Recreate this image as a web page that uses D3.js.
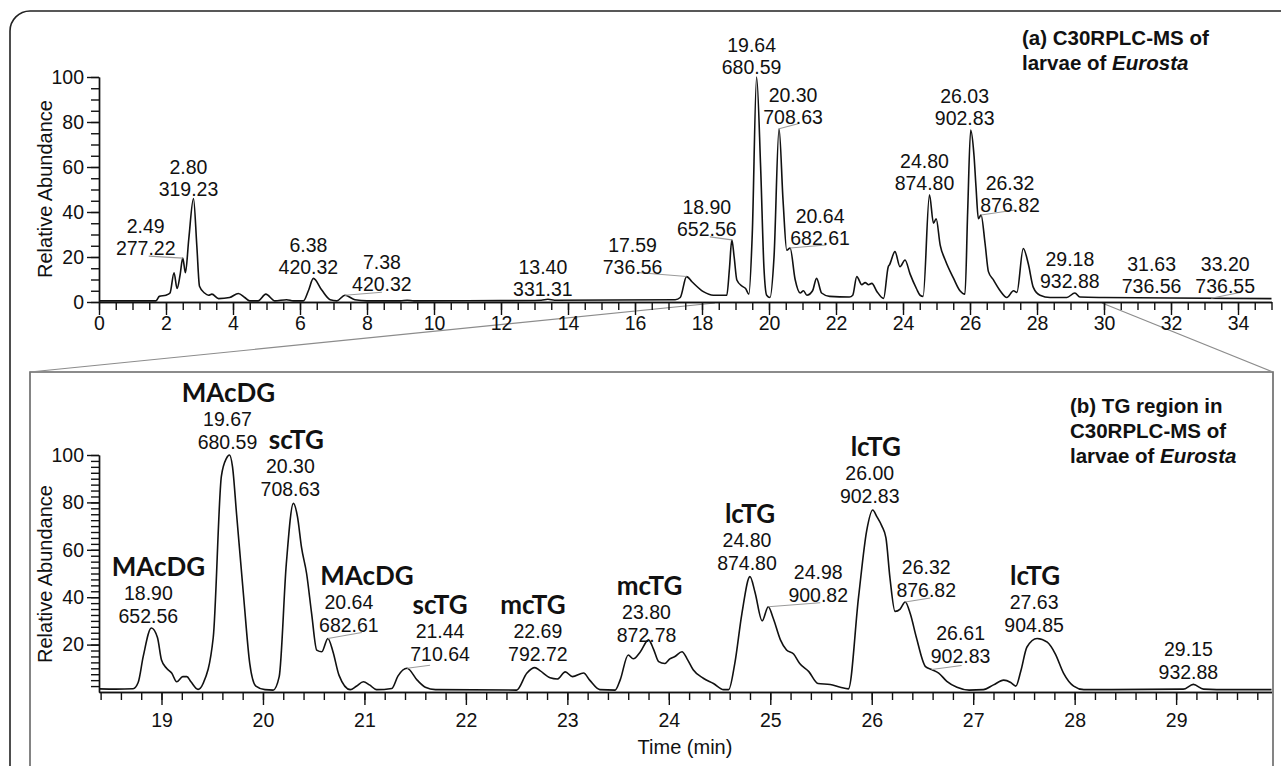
<!doctype html>
<meta charset="utf-8">
<title>C30RPLC-MS of larvae of Eurosta</title>
<script src="https://cdn.jsdelivr.net/npm/d3@7"></script>
<style>
  body { margin: 0; background: #fff; }
  svg { display: block; }
  .num { font-family: "Liberation Sans", Arial, sans-serif; font-size: 19.5px; fill: #111; }
  .cls { font-family: Lato, "Open Sans", sans-serif; font-weight: 700; font-size: 26px; fill: #111; }
  .ttl { font-family: "Liberation Sans", Arial, sans-serif; font-weight: 700; font-size: 20.5px; fill: #111; }
  .axis text { font-family: "Liberation Sans", Arial, sans-serif; font-size: 19.5px; fill: #111; }
  .axis path, .axis line { stroke: #111; stroke-width: 1.4px; }
</style>
<svg id="chart" width="1281" height="766"></svg>
<script>

// (data) top trace: full run, time (min) vs relative abundance
var topTrace = [
  [0, 0.5], [1.7, 0.5], [1.8, 2.5], [2.0, 3], [2.12, 4], [2.24, 13], [2.33, 6], [2.42, 12],
  [2.5, 19.5], [2.58, 13], [2.68, 28], [2.82, 46], [2.92, 25], [3.0, 7], [3.15, 4], [3.27, 3],
  [3.37, 3.5], [3.57, 1.5], [3.9, 2], [4.16, 3.8], [4.35, 2], [4.5, 0.5], [4.75, 0.5], [4.98, 3.5],
  [5.25, 0.5], [5.6, 1], [5.8, 0.5], [6.1, 0.5], [6.25, 5], [6.4, 10.5], [6.65, 5.3], [6.9, 1],
  [7.1, 0.5], [7.34, 3], [7.64, 1], [8.0, 0.5], [9.0, 0.5], [9.2, 0.8], [9.4, 0.5], [12.0, 0.6],
  [13.2, 0.8], [13.4, 1.2], [13.6, 0.8], [17.2, 1.0], [17.35, 2], [17.54, 11.3], [17.7, 9],
  [18.04, 4.6], [18.34, 3], [18.74, 3], [18.82, 15], [18.89, 27.6], [18.96, 20], [19.04, 9.8],
  [19.2, 7], [19.3, 6], [19.4, 3.5], [19.5, 30], [19.63, 100], [19.75, 60], [19.85, 15],
  [19.93, 3], [20.03, 2], [20.15, 20], [20.3, 77], [20.42, 45], [20.53, 23], [20.63, 24],
  [20.78, 10], [20.93, 4], [21.03, 5], [21.13, 3], [21.3, 5], [21.42, 10.5], [21.57, 4],
  [21.81, 2.5], [22.4, 2.2], [22.5, 3], [22.62, 11.3], [22.77, 7.7], [22.87, 8.6], [22.97, 7.7],
  [23.07, 8.3], [23.22, 4.7], [23.42, 1.6], [23.56, 15.7], [23.6, 16.6], [23.76, 22.4],
  [23.91, 15.7], [24.06, 18.7], [24.21, 12.5], [24.4, 6], [24.51, 3], [24.6, 2.5], [24.79, 47.6],
  [24.91, 35], [24.99, 37], [25.11, 25.3], [25.26, 18.7], [25.51, 10.5], [25.7, 5], [25.85, 3.5],
  [25.93, 40], [26.02, 76.4], [26.12, 65], [26.18, 51], [26.25, 37], [26.33, 38.7], [26.45, 26],
  [26.55, 13.5], [26.7, 9.8], [26.9, 5], [27.1, 2], [27.3, 5], [27.4, 4.3], [27.59, 23.8],
  [27.74, 17], [27.89, 6.5], [28.09, 3], [28.39, 2], [28.89, 2], [29.13, 4], [29.28, 2.2],
  [30, 2], [32, 1.8], [35, 1.5]
];

// (data) bottom trace: TG region zoom
var bottomTrace = [
  [18.39, 1.3], [18.55, 1.2], [18.72, 1.4], [18.77, 4], [18.82, 15], [18.9, 27], [18.96, 23],
  [19.0, 13.5], [19.05, 10], [19.1, 8], [19.15, 4.3], [19.21, 6.5], [19.25, 6.5], [19.29, 4.3],
  [19.36, 1.1], [19.41, 3.6], [19.51, 23], [19.59, 91], [19.64, 98.6], [19.67, 100], [19.7, 95],
  [19.74, 75], [19.81, 40], [19.87, 12], [19.93, 2.5], [20.02, 1], [20.1, 0.8], [20.16, 6.5],
  [20.23, 54], [20.3, 79.6], [20.34, 74], [20.38, 61], [20.43, 50], [20.48, 33], [20.53, 17.7],
  [20.58, 17], [20.64, 22.6], [20.69, 17], [20.75, 7], [20.86, 1], [20.92, 2.4], [20.99, 4.3],
  [21.05, 3], [21.12, 1], [21.27, 1.5], [21.33, 6.7], [21.42, 10], [21.52, 5], [21.6, 2],
  [21.7, 1], [22.5, 0.8], [22.6, 7.9], [22.68, 10.3], [22.73, 9], [22.83, 6], [22.9, 5.5],
  [22.98, 8.5], [23.05, 6.5], [23.16, 8], [23.22, 5], [23.32, 1], [23.47, 0.8], [23.52, 5],
  [23.6, 15.6], [23.65, 14], [23.72, 17], [23.8, 22], [23.85, 18], [23.9, 12.8], [23.96, 12],
  [24.01, 14], [24.06, 15], [24.13, 17], [24.18, 14], [24.24, 9.4], [24.34, 5.8], [24.44, 3.6],
  [24.54, 1], [24.59, 1], [24.65, 12], [24.72, 33], [24.8, 48.7], [24.85, 42], [24.92, 30],
  [24.98, 36], [25.03, 31], [25.1, 22], [25.16, 17.7], [25.23, 16], [25.29, 12], [25.38, 8.6],
  [25.47, 3.6], [25.59, 3.2], [25.69, 2], [25.77, 1.3], [25.87, 40], [25.95, 68], [26.01, 76.8],
  [26.05, 74], [26.1, 70], [26.14, 65], [26.18, 48], [26.23, 34], [26.28, 35], [26.33, 38],
  [26.38, 33], [26.44, 23], [26.53, 10.7], [26.59, 9.5], [26.66, 8], [26.74, 4.5], [26.84, 2],
  [26.96, 0.8], [27.1, 1], [27.2, 3], [27.3, 5], [27.37, 4], [27.42, 2.5], [27.47, 9],
  [27.53, 19], [27.63, 22.6], [27.73, 21], [27.81, 16], [27.89, 8], [27.99, 2.5], [28.09, 1],
  [29.07, 1.2], [29.17, 3.2], [29.27, 1.2], [29.4, 1], [29.94, 1]
];

// (data) peak labels: retention time, m/z, and the apex the label belongs to
var topPeaks = [
  {rt: "2.49", mz: "277.22", t: 2.5, a: 19.5},
  {rt: "2.80", mz: "319.23", t: 2.82, a: 46},
  {rt: "6.38", mz: "420.32", t: 6.4, a: 10.5},
  {rt: "7.38", mz: "420.32", t: 7.34, a: 3},
  {rt: "13.40", mz: "331.31", t: 13.4, a: 1.2},
  {rt: "17.59", mz: "736.56", t: 17.54, a: 11.3},
  {rt: "18.90", mz: "652.56", t: 18.89, a: 27.6},
  {rt: "19.64", mz: "680.59", t: 19.63, a: 100},
  {rt: "20.30", mz: "708.63", t: 20.3, a: 77},
  {rt: "20.64", mz: "682.61", t: 20.63, a: 24},
  {rt: "24.80", mz: "874.80", t: 24.79, a: 47.6},
  {rt: "26.03", mz: "902.83", t: 26.02, a: 76.4},
  {rt: "26.32", mz: "876.82", t: 26.33, a: 38.7},
  {rt: "29.18", mz: "932.88", t: 29.13, a: 4},
  {rt: "31.63", mz: "736.56", t: 31.63, a: 1.8},
  {rt: "33.20", mz: "736.55", t: 33.2, a: 1.7}
];

var bottomPeaks = [
  {cls: "MAcDG", rt: "18.90", mz: "652.56", t: 18.9, a: 27},
  {cls: "MAcDG", rt: "19.67", mz: "680.59", t: 19.67, a: 100},
  {cls: "scTG", rt: "20.30", mz: "708.63", t: 20.3, a: 79.6},
  {cls: "MAcDG", rt: "20.64", mz: "682.61", t: 20.64, a: 22.6},
  {cls: "scTG", rt: "21.44", mz: "710.64", t: 21.42, a: 10},
  {cls: "mcTG", rt: "22.69", mz: "792.72", t: 22.68, a: 10.3},
  {cls: "mcTG", rt: "23.80", mz: "872.78", t: 23.8, a: 22},
  {cls: "lcTG", rt: "24.80", mz: "874.80", t: 24.8, a: 48.7},
  {cls: "", rt: "24.98", mz: "900.82", t: 24.98, a: 36},
  {cls: "lcTG", rt: "26.00", mz: "902.83", t: 26.01, a: 76.8},
  {cls: "", rt: "26.32", mz: "876.82", t: 26.33, a: 38},
  {cls: "", rt: "26.61", mz: "902.83", t: 26.59, a: 9.5},
  {cls: "lcTG", rt: "27.63", mz: "904.85", t: 27.63, a: 22.6},
  {cls: "", rt: "29.15", mz: "932.88", t: 29.17, a: 3.2}
];

// (data) axis ticks
var topXMajor = d3.range(0, 35, 2);
var topXMinor = d3.range(0, 71).map(function(i) { return i / 2; });
var topYMajor = [0, 20, 40, 60, 80, 100];
var topYMinor = d3.range(0, 21).map(function(i) { return i * 5; });
var botXMajor = d3.range(19, 30);
var botXMinor = d3.range(92, 150).map(function(i) { return i / 5; });
var botYMajor = [20, 40, 60, 80, 100];
var botYMinor = d3.range(1, 41).map(function(i) { return i * 2.5; });
var zoomWindow = [18.384, 29.94];

// (layout) label placement, pixel offsets from the apex: [dx, dy of first line, leader dx, leader dy]
var topLabelPos = [
  [-37, -32, -34, -2], [-5, -32], [-5, -33], [37, -33, 37, -3], [-5, -32],
  [-54, -32, -49, -4], [-25, -33, -22, -3], [-5, -32], [14, -34, 19, -5], [30, -32, 36, -3],
  [-5, -34], [-6, -34], [29, -32, 34, -5], [-5, -34], [-7, -34], [14, -34, 30, -6]
];
// [dx, dy of first number line, class label dx, leader dx, leader dy]
var botLabelPos = [
  [-3, -35, 10], [-2, -36, 1], [-3, -37, 6], [21, -36, 18, 34, -6], [33, -37, 0, 23, -3],
  [3, -37, -5], [-2, -28, 3], [-3, -37, 3], [50, -35, 0, 52, -4], [-3, -37, 6],
  [21, -35, 0, 25, -4], [29, -36, 0, 30, -4], [-3, -36, 1], [-5, -35, 0]
];

var svg = d3.select("#chart");

// (scales)
var xTop = d3.scaleLinear().domain([0, 35]).range([99, 1271.5]);
var yTop = d3.scaleLinear().domain([0, 100]).range([302, 77]);
var xBot = d3.scaleLinear().domain(zoomWindow).range([99, 1271.5]);
var yBot = d3.scaleLinear().domain([0, 100]).range([692, 455]);

// (frames)
svg.append("path")
  .attr("d", "M10,790 L10,31 A20,20 0 0 1 30,11 L1300,11")
  .attr("fill", "none").attr("stroke", "#222").attr("stroke-width", 1.6);

svg.append("path")
  .attr("d", "M30,790 L30,372 L1273,372 L1273,790")
  .attr("fill", "none").attr("stroke", "#666").attr("stroke-width", 1.6);

// (zoom connectors)
svg.append("line")
  .attr("x1", 30).attr("y1", 372).attr("x2", xTop(zoomWindow[0])).attr("y2", 303)
  .attr("stroke", "#8c8c8c").attr("stroke-width", 1.2);
svg.append("line")
  .attr("x1", 1273).attr("y1", 372).attr("x2", xTop(zoomWindow[1])).attr("y2", 303)
  .attr("stroke", "#8c8c8c").attr("stroke-width", 1.2);

// (axes)
function axes(xs, ys, xMaj, xMin, yMaj, yMin, x0, y0, xPad) {
  svg.append("g").attr("class", "axis").attr("transform", "translate(0," + y0 + ")")
    .call(d3.axisBottom(xs).tickValues(xMin).tickSize(8).tickSizeOuter(0).tickFormat(""));
  svg.append("g").attr("class", "axis").attr("transform", "translate(0," + y0 + ")")
    .call(d3.axisBottom(xs).tickValues(xMaj).tickSize(13).tickSizeOuter(0).tickPadding(xPad)
      .tickFormat(d3.format("d")));
  svg.append("g").attr("class", "axis").attr("transform", "translate(" + x0 + ",0)")
    .call(d3.axisLeft(ys).tickValues(yMin).tickSize(8).tickSizeOuter(0).tickFormat(""));
  svg.append("g").attr("class", "axis").attr("transform", "translate(" + x0 + ",0)")
    .call(d3.axisLeft(ys).tickValues(yMaj).tickSize(12).tickSizeOuter(0).tickPadding(3)
      .tickFormat(d3.format("d")));
}
axes(xTop, yTop, topXMajor, topXMinor, topYMajor, topYMinor, 99, 302, 1);
axes(xBot, yBot, botXMajor, botXMinor, botYMajor, botYMinor, 99, 692, 8);

// (axis titles)
svg.append("text").attr("class", "num").style("font-size", "20px")
  .attr("text-anchor", "middle").attr("transform", "translate(52,189) rotate(-90)")
  .text("Relative Abundance");
svg.append("text").attr("class", "num").style("font-size", "20px")
  .attr("text-anchor", "middle").attr("transform", "translate(52,574) rotate(-90)")
  .text("Relative Abundance");
svg.append("text").attr("class", "num").style("font-size", "20px")
  .attr("text-anchor", "middle").attr("x", 685).attr("y", 754).text("Time (min)");

// (traces)
function trace(data, xs, ys) {
  svg.append("path")
    .datum(data)
    .attr("fill", "none")
    .attr("stroke", "#111")
    .attr("stroke-width", 1.6)
    .attr("stroke-linejoin", "round")
    .attr("d", d3.line()
      .x(function(d) { return xs(d[0]); })
      .y(function(d) { return ys(d[1]); })
      .curve(d3.curveMonotoneX));
}
trace(topTrace, xTop, yTop);
trace(bottomTrace, xBot, yBot);

// (peak labels, top)
topPeaks.forEach(function(p, i) {
  var pos = topLabelPos[i];
  var px = xTop(p.t), py = yTop(p.a);
  if (pos.length > 2) {
    svg.append("line").attr("x1", px).attr("y1", py)
      .attr("x2", px + pos[2]).attr("y2", py + pos[3])
      .attr("stroke", "#9a9a9a").attr("stroke-width", 1.1);
  }
  svg.append("text").attr("class", "num").attr("text-anchor", "middle")
    .attr("x", px + pos[0]).attr("y", py + pos[1] + 7).text(p.rt);
  svg.append("text").attr("class", "num").attr("text-anchor", "middle")
    .attr("x", px + pos[0]).attr("y", py + pos[1] + 29).text(p.mz);
});

// (peak labels, bottom)
bottomPeaks.forEach(function(p, i) {
  var pos = botLabelPos[i];
  var px = xBot(p.t), py = yBot(p.a);
  if (pos.length > 3) {
    svg.append("line").attr("x1", px).attr("y1", py)
      .attr("x2", px + pos[3]).attr("y2", py + pos[4])
      .attr("stroke", "#9a9a9a").attr("stroke-width", 1.1);
  }
  if (p.cls) {
    svg.append("text").attr("class", "cls").attr("text-anchor", "middle")
      .attr("x", px + pos[0] + pos[2]).attr("y", py + pos[1] - 17).text(p.cls);
  }
  svg.append("text").attr("class", "num").attr("text-anchor", "middle")
    .attr("x", px + pos[0]).attr("y", py + pos[1] + 7).text(p.rt);
  svg.append("text").attr("class", "num").attr("text-anchor", "middle")
    .attr("x", px + pos[0]).attr("y", py + pos[1] + 30).text(p.mz);
});

// (panel titles)
var titleA = svg.append("text").attr("class", "ttl").attr("x", 1022).attr("y", 45);
titleA.append("tspan").attr("x", 1022).text("(a) C30RPLC-MS of");
titleA.append("tspan").attr("x", 1022).attr("dy", 25).text("larvae of ");
titleA.append("tspan").style("font-style", "italic").text("Eurosta");

var titleB = svg.append("text").attr("class", "ttl").attr("x", 1070).attr("y", 413);
titleB.append("tspan").attr("x", 1070).text("(b) TG region in");
titleB.append("tspan").attr("x", 1070).attr("dy", 25).text("C30RPLC-MS of");
titleB.append("tspan").attr("x", 1070).attr("dy", 25).text("larvae of ");
titleB.append("tspan").style("font-style", "italic").text("Eurosta");

</script>
